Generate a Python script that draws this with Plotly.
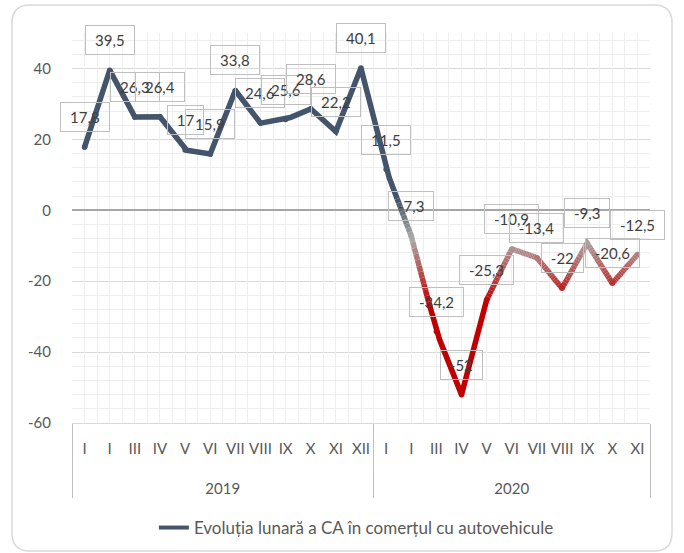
import plotly.graph_objects as go

# ---------------- data ----------------
years = ["2019", "2020"]
months_2019 = ["I", "I\u200b", "III", "IV", "V", "VI", "VII", "VIII", "IX", "X", "XI", "XII"]
months_2020 = ["I", "I\u200b", "III", "IV", "V", "VI", "VII", "VIII", "IX", "X", "XI"]
values_2019 = [17.8, 39.5, 26.3, 26.4, 17, 15.9, 33.8, 24.6, 25.6, 28.6, 22.2, 40.1]
values_2020 = [11.5, -7.3, -34.2, -52, -25.3, -10.9, -13.4, -22, -9.3, -20.6, -12.5]
series_name = "Evoluția lunară a CA în comerțul cu autovehicule"
y_ticks = [-60, -40, -20, 0, 20, 40]

# ---------------- derived ----------------
SPAN = "<span style='font-size:15px'>{}</span>"
# year labels get an empty first line so they sit lower, as in the original
cat_year = ([f"\u00a0<br>{SPAN.format(years[0])}"] * len(months_2019)
            + [f"\u00a0<br>{SPAN.format(years[1])}"] * len(months_2020))
cat_month = [SPAN.format(m) for m in months_2019 + months_2020]
values = values_2019 + values_2020
idx = list(range(len(values)))

FONT = "Lato, 'Noto Sans', sans-serif"
TXT = "#595959"
BLUE = (68, 84, 106)
GRAY = (170, 170, 170)
RED = (192, 0, 0)
STOPS = [(3.0, BLUE), (-8.0, GRAY), (-26.0, RED)]


def grad_color(v):
    if v >= STOPS[0][0]:
        c = STOPS[0][1]
    elif v <= STOPS[-1][0]:
        c = STOPS[-1][1]
    else:
        for (v0, c0), (v1, c1) in zip(STOPS[:-1], STOPS[1:]):
            if v1 <= v <= v0:
                t = (v0 - v) / (v0 - v1)
                c = tuple(round(a + (b - a) * t) for a, b in zip(c0, c1))
                break
    return "#%02x%02x%02x" % c


fig = go.Figure()

# invisible trace carrying the two-level category axis
fig.add_trace(go.Scatter(
    x=[cat_year, cat_month], y=values, mode="lines",
    line=dict(width=0, color="rgba(0,0,0,0)"),
    hoverinfo="skip", showlegend=False, xaxis="x", yaxis="y"))

# gradient line: split each segment into short pieces coloured by height
N = 16
runs = []
for k in range(len(values) - 1):
    x0, y0, x1, y1 = idx[k], values[k], idx[k + 1], values[k + 1]
    for j in range(N):
        ta, tb = j / N, (j + 1) / N
        xa, ya = x0 + (x1 - x0) * ta, y0 + (y1 - y0) * ta
        xb, yb = x0 + (x1 - x0) * tb, y0 + (y1 - y0) * tb
        col = grad_color((ya + yb) / 2)
        if runs and runs[-1][0] == col:
            runs[-1][1].append(xb)
            runs[-1][2].append(yb)
        else:
            runs.append([col, [xa, xb], [ya, yb]])

for col, xs, ys in runs:
    fig.add_trace(go.Scatter(
        x=xs, y=ys, mode="lines", line=dict(color=col, width=5.5),
        hoverinfo="skip", showlegend=False, xaxis="x2", yaxis="y"))

# round joints at the data points
fig.add_trace(go.Scatter(
    x=idx, y=values, mode="markers",
    marker=dict(size=5.5, color=[grad_color(v) for v in values], line=dict(width=0)),
    hoverinfo="skip", showlegend=False, xaxis="x2", yaxis="y"))

# legend entry
fig.add_trace(go.Scatter(
    x=[None], y=[None], mode="lines", name=series_name,
    line=dict(color="#44546a", width=4), xaxis="x2", yaxis="y"))

# data labels in boxes
CW = {"-": 5.3, ",": 3.6}
for i, v in zip(idx, values):
    s = f"{v:g}".replace(".", ",")
    tw = sum(CW.get(ch, 8.7) for ch in s)
    fig.add_annotation(
        x=i, y=v, xref="x2", yref="y", text=s, showarrow=False,
        yshift=30, font=dict(family=FONT, size=15, color="#404040"),
        bordercolor="#bfbfbf", borderwidth=1, borderpad=4,
        width=tw + 10, height=20, bgcolor="rgba(0,0,0,0)")

# plot area in pixels
W, H = 684, 553
L, R, T, B = 72, 34, 33, 130
PW, PH = W - L - R, H - T - B


def px(xp):
    return (xp - L) / PW


def py(yp):
    return (H - B - yp) / PH


# rounded outer border
x0p, y0p, x1p, y1p, r = 12, 5, 672, 551, 18
path = (f"M {px(x0p + r)},{py(y0p)} L {px(x1p - r)},{py(y0p)} "
        f"Q {px(x1p)},{py(y0p)} {px(x1p)},{py(y0p + r)} "
        f"L {px(x1p)},{py(y1p - r)} Q {px(x1p)},{py(y1p)} {px(x1p - r)},{py(y1p)} "
        f"L {px(x0p + r)},{py(y1p)} Q {px(x0p)},{py(y1p)} {px(x0p)},{py(y1p - r)} "
        f"L {px(x0p)},{py(y0p + r)} Q {px(x0p)},{py(y0p)} {px(x0p + r)},{py(y0p)} Z")
fig.add_shape(type="path", path=path, xref="paper", yref="paper",
              line=dict(color="#d9d9d9", width=1.5), layer="below")

n = len(values)
fig.update_layout(
    width=W, height=H, margin=dict(l=L, r=R, t=T, b=B, autoexpand=False),
    paper_bgcolor="white", plot_bgcolor="white",
    font=dict(family=FONT, size=15, color=TXT),
    showlegend=True,
    legend=dict(orientation="h", x=0.492, xanchor="center", y=py(528), yanchor="middle",
                font=dict(family=FONT, size=17, color=TXT), bgcolor="rgba(0,0,0,0)"),
    xaxis=dict(type="multicategory", range=[-0.5, n - 0.5], showgrid=False,
               showline=True, linecolor="#d9d9d9", linewidth=1, ticks="",
               tickangle=0, automargin=False, ticklabelstandoff=6,
               showdividers=True, dividercolor="#bfbfbf", dividerwidth=1,
               tickfont=dict(family=FONT, size=20, color=TXT), zeroline=False),
    xaxis2=dict(overlaying="x", anchor="y", range=[-0.5, n - 0.5], showticklabels=False,
                showline=False, ticks="", zeroline=False, showgrid=True, automargin=False,
                tick0=-0.5, dtick=0.5, gridcolor="#eeeeee", gridwidth=1),
    yaxis=dict(range=[-60, 50], tickvals=y_ticks, ticktext=[str(v) for v in y_ticks],
               showgrid=True, gridcolor="#d9d9d9", automargin=False,
               gridwidth=1, zeroline=True, zerolinecolor="#a6a6a6", zerolinewidth=2,
               showline=False, ticks="", ticklabelstandoff=20,
               minor=dict(dtick=4, tick0=0, showgrid=True, gridcolor="#eeeeee", gridwidth=1),
               tickfont=dict(family=FONT, size=15, color=TXT)),
)

fig.write_html("out.html", config={"displayModeBar": False},
               post_script="document.body.style.margin='0';")
